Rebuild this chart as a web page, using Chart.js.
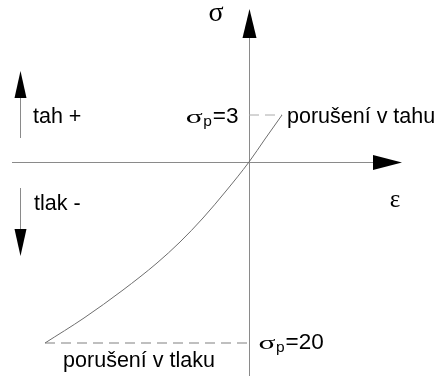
<!DOCTYPE html>
<html>
<head>
<meta charset="utf-8">
<script src="https://cdn.jsdelivr.net/npm/chart.js@4.4.1/dist/chart.umd.min.js"></script>
<style>
  html, body { margin: 0; padding: 0; background: #fff; }
  #wrap { width: 444px; height: 376px; }
</style>
</head>
<body>
<div id="wrap"><canvas id="sigmaChart" width="444" height="376"></canvas></div>
<script>
// schematic stress-strain curve (arbitrary units, origin at axis crossing)
const strain = [-20.4, -16.5, -12.6, -9.2, -6.9, -4.6, -2.3, 0, 1.6, 3.3];
const stress = [-18.1, -15.6, -12.8, -10.1, -8.0, -5.6, -2.9, 0, 2.3, 4.7];

const tensionLimit = 4.7;       // drawn level of sigma_p = 3
const compressionLimit = -18.1; // drawn level of sigma_p = 20
const tensionLabel = ['σ', 'p', '=3'];
const compressionLabel = ['σ', 'p', '=20'];

const xRange = [-24.9, 19.5];
const yRange = [-21.4, 16.2];

const curvePoints = strain.map(function(e, i) {
    return { x: e, y: stress[i] };
});

function arrowHead(ctx, tipX, tipY, dir, len, half) {
    ctx.beginPath();
    if (dir === 'up') {
        ctx.moveTo(tipX, tipY);
        ctx.lineTo(tipX - half, tipY + len);
        ctx.lineTo(tipX + half, tipY + len);
    } else if (dir === 'down') {
        ctx.moveTo(tipX, tipY);
        ctx.lineTo(tipX - half, tipY - len);
        ctx.lineTo(tipX + half, tipY - len);
    } else {
        ctx.moveTo(tipX, tipY);
        ctx.lineTo(tipX - len, tipY - half);
        ctx.lineTo(tipX - len, tipY + half);
    }
    ctx.closePath();
    ctx.fillStyle = '#000';
    ctx.fill();
}

// sigma (wide, thin) + small p + "=value", on a baseline
function limitLabel(ctx, parts, x, baseline, alignRight) {
    let fSig = '21px "Liberation Serif", serif';
    let fSub = '15.5px "Liberation Sans", Arial, sans-serif';
    let fRest = '22.5px "Liberation Sans", Arial, sans-serif';
    let sigW = 17;
    ctx.font = fSig; let sigRaw = ctx.measureText(parts[0]).width;
    ctx.font = fSub; let w2 = ctx.measureText(parts[1]).width + 1.5;
    ctx.font = fRest; let w3 = ctx.measureText(parts[2]).width;
    let sx = alignRight ? x - (sigW + w2 + w3) : x;
    ctx.textAlign = 'left';
    ctx.textBaseline = 'alphabetic';
    ctx.save();
    ctx.translate(sx, baseline);
    ctx.scale(sigW / sigRaw, 0.85);
    ctx.font = fSig;
    ctx.fillText(parts[0], 0, 0);
    ctx.restore();
    ctx.font = fSub; ctx.fillText(parts[1], sx + sigW + 0.5, baseline + 3);
    ctx.font = fRest; ctx.fillText(parts[2], sx + sigW + w2, baseline);
}

const diagramPlugin = {
    id: 'diagram',
    beforeDatasetsDraw(chart) {
        let ctx = chart.ctx;
        let ox = Math.round(chart.scales.x.getPixelForValue(0)) + 0.5;
        let oy = Math.round(chart.scales.y.getPixelForValue(0)) + 0.5;
        ctx.save();
        ctx.strokeStyle = '#8a8a8a';
        ctx.lineWidth = 1;
        ctx.beginPath();
        ctx.moveTo(12, oy);
        ctx.lineTo(380, oy);
        ctx.moveTo(ox, 30);
        ctx.lineTo(ox, 376);
        ctx.stroke();
        ctx.restore();
    },
    afterDraw(chart) {
        let ctx = chart.ctx;
        let ox = Math.round(chart.scales.x.getPixelForValue(0)) + 0.5;
        let oy = Math.round(chart.scales.y.getPixelForValue(0)) + 0.5;
        let yTop = chart.scales.y.getPixelForValue(tensionLimit);
        let yBot = chart.scales.y.getPixelForValue(compressionLimit);

        ctx.save();
        arrowHead(ctx, ox, 9, 'up', 29, 7);
        arrowHead(ctx, 402, oy, 'right', 29, 7.5);

        // side arrows
        ctx.strokeStyle = '#8a8a8a';
        ctx.lineWidth = 1;
        ctx.beginPath();
        ctx.moveTo(20.5, 138);
        ctx.lineTo(20.5, 95);
        ctx.moveTo(20.5, 188);
        ctx.lineTo(20.5, 230);
        ctx.stroke();
        arrowHead(ctx, 20.5, 71, 'up', 27, 6);
        arrowHead(ctx, 20.5, 256, 'down', 27, 6);

        ctx.fillStyle = '#000';
        ctx.textBaseline = 'middle';
        ctx.font = '21.5px "Liberation Sans", Arial, sans-serif';
        ctx.textAlign = 'left';
        ctx.fillText('tah +', 33, 117);
        ctx.fillText('tlak -', 34, 204);
        ctx.fillText('porušení v tahu', 287, yTop + 2);
        ctx.textAlign = 'center';
        ctx.fillText('porušení v tlaku', 139, yBot + 18);

        // axis symbols
        ctx.font = '28px "Liberation Serif", serif';
        ctx.textAlign = 'center';
        ctx.fillText('σ', 216, 14);
        ctx.font = '25px "Liberation Serif", serif';
        ctx.fillText('ε', 395, 200);

        limitLabel(ctx, tensionLabel, ox - 11, yTop + 8, true);
        limitLabel(ctx, compressionLabel, ox + 9, yBot + 5.5, false);
        ctx.restore();
    }
};

new Chart(document.getElementById('sigmaChart'), {
    type: 'scatter',
    data: {
        datasets: [
            {
                data: curvePoints,
                showLine: true,
                borderColor: '#6e6e6e',
                borderWidth: 1,
                pointRadius: 0,
                cubicInterpolationMode: 'monotone'
            },
            {
                data: [{ x: 0, y: tensionLimit }, { x: strain[strain.length - 1], y: tensionLimit }],
                showLine: true,
                borderColor: '#aaa',
                borderWidth: 1,
                borderDash: [10, 6],
                pointRadius: 0
            },
            {
                data: [{ x: strain[0], y: compressionLimit }, { x: 0, y: compressionLimit }],
                showLine: true,
                borderColor: '#aaa',
                borderWidth: 1.3,
                borderDash: [10, 6],
                pointRadius: 0
            }
        ]
    },
    options: {
        responsive: false,
        animation: false,
        layout: { padding: 0 },
        plugins: {
            legend: { display: false },
            tooltip: { enabled: false }
        },
        scales: {
            x: { type: 'linear', display: false, min: xRange[0], max: xRange[1] },
            y: { type: 'linear', display: false, min: yRange[0], max: yRange[1] }
        }
    },
    plugins: [diagramPlugin]
});
</script>
</body>
</html>
